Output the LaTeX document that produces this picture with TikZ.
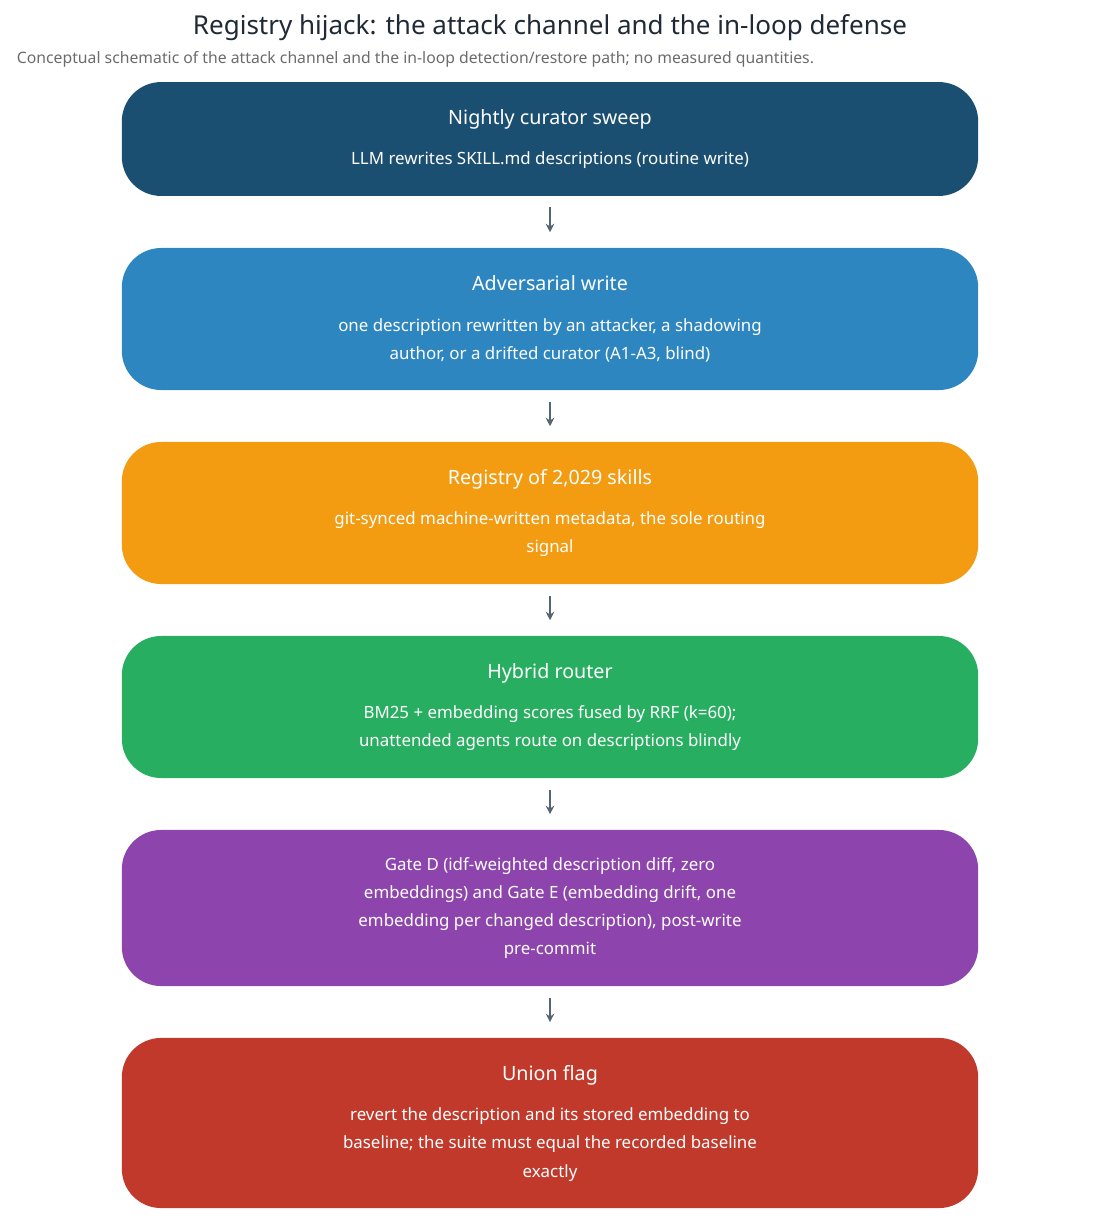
\documentclass[tikz,border=0pt]{standalone}
\usepackage{fontspec}
\setmainfont{Noto Sans}
\usepackage{tikz}
\usetikzlibrary{arrows.meta,positioning}
\definecolor{TitleDark}{HTML}{1F2A36}
\definecolor{SubGray}{HTML}{6B6B6B}
\definecolor{ArrowGray}{HTML}{566573}
\definecolor{SweepBlue}{HTML}{1B4F72}
\definecolor{WriteBlue}{HTML}{2E86C1}
\definecolor{RegOrange}{HTML}{F39C12}
\definecolor{RouterGreen}{HTML}{27AE60}
\definecolor{GatePurple}{HTML}{8E44AD}
\definecolor{FlagRed}{HTML}{C0392B}

\begin{document}
\begin{tikzpicture}[
        x=0.025cm, y=-0.025cm,
        stage/.style={rectangle, rounded corners=28pt, draw=none, text=white, minimum width=609pt, align=center, font=\fontsize{12}{20}\selectfont},
        link/.style={-{Stealth[length=6pt,width=6pt]}, line width=1.6pt, ArrowGray, shorten <=8pt, shorten >=11pt}
    ]
        \useasboundingbox (0,0) rectangle (1101,1224);
        % Header
        \node[text=TitleDark, font=\fontsize{18.5}{22}\selectfont] (title) at (550,28) {Registry hijack: the attack channel and the in-loop defense};
        \node[text=SubGray, font=\fontsize{11.2}{14}\selectfont, anchor=west] (subtitle) at (12,59) {Conceptual schematic of the attack channel and the in-loop detection/restore path; no measured quantities.};

        % Stages
        \node[stage, fill=SweepBlue, minimum height=81pt] (sweep) at (550,139)
            {{\fontsize{14}{20}\selectfont\bfseries Nightly curator sweep}\\[9pt]LLM rewrites SKILL.md descriptions (routine write)};
        \node[stage, fill=WriteBlue, minimum height=101pt] (adv) at (550,319)
            {{\fontsize{14}{20}\selectfont\bfseries Adversarial write}\\[9pt]one description rewritten by an attacker, a shadowing\\author, or a drifted curator (A1-A3, blind)};
        \node[stage, fill=RegOrange, minimum height=101pt] (registry) at (550,513)
            {{\fontsize{14}{20}\selectfont\bfseries Registry of 2,029 skills}\\[9pt]git-synced machine-written metadata, the sole routing\\signal};
        \node[stage, fill=RouterGreen, minimum height=101pt] (router) at (550,707)
            {{\fontsize{14}{20}\selectfont\bfseries Hybrid router}\\[9pt]BM25 + embedding scores fused by RRF (k=60);\\unattended agents route on descriptions blindly};
        \node[stage, fill=GatePurple, minimum height=111pt] (gates) at (550,908)
            {Gate D (idf-weighted description diff, zero\\embeddings) and Gate E (embedding drift, one\\embedding per changed description), post-write\\pre-commit};
        \node[stage, fill=FlagRed, minimum height=121pt] (flag) at (550,1123)
            {{\fontsize{14}{20}\selectfont\bfseries Union flag}\\[9pt]revert the description and its stored embedding to\\baseline; the suite must equal the recorded baseline\\exactly};

        % Flow
        \draw[link] (sweep) -- (adv);
        \draw[link] (adv) -- (registry);
        \draw[link] (registry) -- (router);
        \draw[link] (router) -- (gates);
        \draw[link] (gates) -- (flag);
    \end{tikzpicture}
\end{document}
